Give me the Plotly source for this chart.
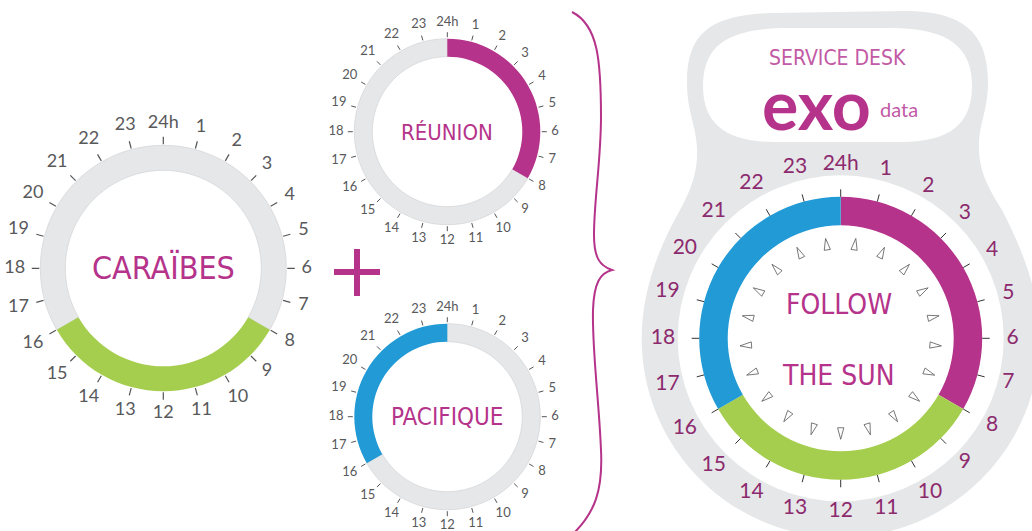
import math
import plotly.graph_objects as go

W, H = 1032, 531

# ---------------- data ----------------
hour_values = list(range(24))
hour_labels = ["24h"] + [str(h) for h in range(1, 24)]

caraibes_on = [8, 16]
reunion_on = [0, 8]
pacifique_on = [16, 24]

follow_regions = ["Réunion", "Caraïbes", "Pacifique"]
follow_start = [0, 8, 16]
follow_end = [8, 16, 24]

sun_ray_angles = [8.6, 25.7, 42.9, 60, 77.1, 94.3, 111.4, 128.6, 145.7, 162.9,
                  180, 197.1, 214.3, 231.4, 248.6, 265.7, 282.9, 300, 317.1, 334.3, 351.4]

# ---------------- styles ----------------
MAGENTA = "#B5338A"
GREEN = "#A5CD4E"
BLUE = "#219AD6"
GRAY = "#E6E7E8"
GRAY_EDGE = "#D6D7D9"
LAB_GRAY = "#58595B"
LAB_PURPLE = "#8C2A6E"
TITLE_FONT = "Liberation Sans Narrow, DejaVu Sans Condensed, Liberation Sans, sans-serif"
NUM_FONT = "Lato, Open Sans, sans-serif"
region_colors = {"Réunion": MAGENTA, "Caraïbes": GREEN, "Pacifique": BLUE}

fig = go.Figure()
layout_polars = {}


def add_clock(name, cx, cy, R, r_in, r_out, segments, tick_r, lab_r0, lab_size,
              lab_color, tick_color, tick_w):
    layout_polars[name] = dict(
        domain=dict(x=[(cx - R) / W, (cx + R) / W], y=[1 - (cy + R) / H, 1 - (cy - R) / H]),
        bgcolor="rgba(0,0,0,0)", barmode="overlay",
        radialaxis=dict(visible=False, range=[0, R]),
        angularaxis=dict(visible=False, rotation=90, direction="clockwise"),
    )
    for s, e, col, edge in segments:
        fig.add_trace(go.Barpolar(
            r=[r_out - r_in], base=[r_in], theta=[(s + e) / 2 * 15], width=[(e - s) * 15],
            marker=dict(color=col, line=dict(color=edge if edge else col, width=0.8 if edge else 0)),
            subplot=name, hoverinfo="skip", showlegend=False))
    tr, tt = [], []
    for h in hour_values:
        tr += [tick_r[0], tick_r[1], None]
        tt += [h * 15, h * 15, None]
    fig.add_trace(go.Scatterpolar(r=tr, theta=tt, mode="lines",
                                  line=dict(color=tick_color, width=tick_w),
                                  subplot=name, hoverinfo="skip", showlegend=False,
                                  cliponaxis=False))
    lr, lt = [], []
    for h, lab in zip(hour_values, hour_labels):
        a = math.radians(h * 15)
        w = len(lab) * 0.56 * lab_size
        hh = 0.72 * lab_size
        ext = 0.5 * (w * abs(math.sin(a)) + hh * abs(math.cos(a)))
        lr.append(lab_r0 + ext)
        lt.append(h * 15)
    fig.add_trace(go.Scatterpolar(r=lr, theta=lt, mode="text", text=hour_labels,
                                  textfont=dict(family=NUM_FONT, size=lab_size, color=lab_color),
                                  subplot=name, hoverinfo="skip", showlegend=False,
                                  cliponaxis=False))


def ring_segments(on, color):
    s, e = on
    return [(e, s + 24, GRAY, GRAY_EDGE), (s, e, color, None)]


# Caraïbes
add_clock("polar", 163.3, 268.3, 160, 98, 123, ring_segments(caraibes_on, GREEN),
          (124, 131.5), 138.5, 18, LAB_GRAY, "#555555", 1.2)
# Réunion
add_clock("polar2", 447.3, 131.7, 114, 75, 93, ring_segments(reunion_on, MAGENTA),
          (94.5, 99.5), 104, 13, LAB_GRAY, "#555555", 1.0)
# Pacifique
add_clock("polar3", 447.3, 416.7, 114, 75, 93, ring_segments(pacifique_on, BLUE),
          (94.5, 99.5), 104, 13, LAB_GRAY, "#555555", 1.0)
# Follow the sun
follow_segments = [(s, e, region_colors[n], None) for n, s, e in zip(follow_regions, follow_start, follow_end)]
add_clock("polar4", 840.7, 338.3, 190, 113, 141.5, follow_segments,
          (141.5, 149), 166, 21, LAB_PURPLE, "#333333", 1.0)

# sun rays (thin outlined triangles) inside the big clock
rr, rt = [], []
for a in sun_ray_angles:
    rr += [101, 89.5, 89.5, 101, None]
    rt += [a, a - 2.0, a + 2.0, a, None]
fig.add_trace(go.Scatterpolar(r=rr, theta=rt, mode="lines", line=dict(color="#555555", width=0.8),
                              subplot="polar4", hoverinfo="skip", showlegend=False))


# ---------------- decorations ----------------
def path(cmds, close=True):
    out = []
    for c, pts in cmds:
        coords = []
        for i in range(0, len(pts), 2):
            coords.append(f"{pts[i] / W:.5f},{1 - pts[i + 1] / H:.5f}")
        out.append(c + " " + " ".join(coords))
    return " ".join(out) + (" Z" if close else "")


cx4, cy4, rb = 840.7, 338.3, 199
k = 0.5523 * rb
kettle = path([
    ("M", [687, 82]),
    ("C", [687, 32, 712, 15, 772, 13]),
    ("L", [905, 11]),
    ("C", [962, 11, 988, 32, 988, 82]),
    ("C", [988, 112, 978, 125, 979, 150]),
    ("C", [980, 175, 990, 190, 1002, 210]),
    ("C", [1020, 245, cx4 + rb, 290, cx4 + rb, cy4]),
    ("C", [cx4 + rb, cy4 + k, cx4 + k, cy4 + rb, cx4, cy4 + rb]),
    ("C", [cx4 - k, cy4 + rb, cx4 - rb, cy4 + k, cx4 - rb, cy4]),
    ("C", [cx4 - rb, 290, 660, 245, 680, 210]),
    ("C", [692, 188, 698, 170, 697, 148]),
    ("C", [696, 125, 687, 112, 687, 82]),
])
hole = path([
    ("M", [703, 86]),
    ("C", [703, 45, 728, 28, 790, 28]),
    ("L", [890, 28]),
    ("C", [950, 28, 972, 48, 972, 86]),
    ("C", [972, 124, 950, 142, 900, 142]),
    ("L", [775, 142]),
    ("C", [726, 142, 703, 124, 703, 86]),
])
brace = path([
    ("M", [572, 12]),
    ("C", [598, 25, 601, 60, 601, 117]),
    ("C", [601, 160, 594, 200, 594, 235]),
    ("C", [594, 258, 600, 266, 612, 270]),
    ("C", [600, 273, 594, 283, 593, 310]),
    ("C", [592, 350, 599, 400, 601, 450]),
    ("C", [603, 490, 595, 512, 574, 533]),
], close=False)

shapes = [
    dict(type="path", path=kettle, xref="paper", yref="paper", fillcolor=GRAY,
         line=dict(width=0), layer="below"),
    dict(type="path", path=hole, xref="paper", yref="paper", fillcolor="white",
         line=dict(width=0), layer="below"),
    dict(type="circle", xref="paper", yref="paper", x0=(cx4 - 163) / W, x1=(cx4 + 163) / W,
         y0=1 - (cy4 + 163) / H, y1=1 - (cy4 - 163) / H, fillcolor="white",
         line=dict(width=0), layer="below"),
    dict(type="path", path=brace, xref="paper", yref="paper", line=dict(color=MAGENTA, width=2),
         layer="below"),
    dict(type="line", xref="paper", yref="paper", x0=334 / W, x1=380 / W, y0=1 - 272 / H, y1=1 - 272 / H,
         line=dict(color=MAGENTA, width=6), layer="below"),
    dict(type="line", xref="paper", yref="paper", x0=357 / W, x1=357 / W, y0=1 - 249 / H, y1=1 - 296 / H,
         line=dict(color=MAGENTA, width=6), layer="below"),
]


def ann(text, x, y, size, color, family=TITLE_FONT, weight=None):
    f = dict(family=family, size=size, color=color)
    if weight:
        f["weight"] = weight
    return dict(text=text, x=x / W, y=1 - y / H, xref="paper", yref="paper", showarrow=False,
                xanchor="center", yanchor="middle", font=f)


annotations = [
    ann("CARAÏBES", 163, 268, 32, MAGENTA),
    ann("RÉUNION", 447, 132, 22, MAGENTA),
    ann("PACIFIQUE", 447.5, 417, 24, MAGENTA),
    ann("FOLLOW", 839, 304, 28, MAGENTA),
    ann("THE SUN", 838, 375, 28, MAGENTA),
    ann("SERVICE DESK", 837, 58, 21, "#C25AA5"),
    ann("exo", 816, 103, 68, MAGENTA, family="Lato, sans-serif", weight=700),
    ann("data", 899, 109, 20, "#C25AA5", family="Lato, sans-serif"),
]

fig.update_layout(
    width=W, height=H, margin=dict(l=0, r=0, t=0, b=0),
    paper_bgcolor="white", plot_bgcolor="white",
    showlegend=False, shapes=shapes, annotations=annotations,
    hovermode=False,
    **layout_polars,
)

fig.write_html(
    "out.html",
    config={"displayModeBar": False, "staticPlot": True},
    post_script="document.body.style.margin='0';document.body.style.padding='0';"
                "document.body.style.overflow='hidden';",
)
